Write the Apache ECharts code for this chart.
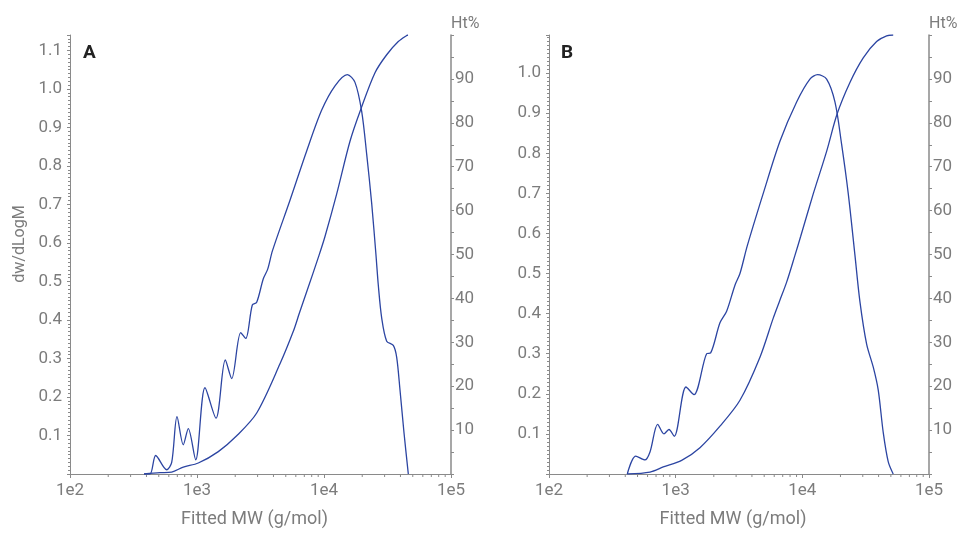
<!DOCTYPE html>
<html>
<head>
<meta charset="utf-8">
<script src="https://cdn.jsdelivr.net/npm/echarts@6/dist/echarts.min.js"></script>
<style>
html,body{margin:0;padding:0;background:#fff;}
#chart{width:961px;height:533px;}
</style>
</head>
<body>
<div id="chart"></div>
<script>
// ---- Panel A data ----
const aDwMW = [383, 427, 473, 577, 632, 696, 780, 854, 977, 1156, 1411, 1670, 1876, 2209, 2418, 2726, 2952, 3327, 3603, 3930, 5398, 7306, 9592, 12210, 15260, 17540, 19815, 21690, 23750, 25670, 26770, 28470, 31160, 35130, 37360, 39670, 42650, 46120];
const aDw = [0, 0, 0.048, 0.011, 0.03, 0.149, 0.076, 0.118, 0.037, 0.224, 0.145, 0.296, 0.248, 0.367, 0.352, 0.439, 0.446, 0.507, 0.532, 0.58, 0.711, 0.839, 0.945, 1.008, 1.037, 1.017, 0.941, 0.830, 0.702, 0.568, 0.49, 0.405, 0.345, 0.334, 0.303, 0.218, 0.107, 0];
const aHtMW = [383, 511, 632, 780, 1024, 1472, 2054, 2952, 4503, 5733, 6391, 7306, 9134, 10180, 12590, 16020, 19560, 25210, 31160, 38460, 44790, 45860];
const aHt = [0, 0.3, 0.45, 1.57, 2.5, 5.1, 8.7, 13.9, 25.1, 32.5, 36.6, 41.5, 49.8, 54.1, 63.8, 75.8, 83.2, 91.4, 95.5, 98.5, 99.9, 100];

// ---- Panel B data ----
const bDwMW = [415, 484, 572, 627, 721, 808, 885, 975, 1206, 1394, 1756, 1889, 2237, 2526, 2938, 3218, 3674, 4914, 6656, 9016, 11480, 13200, 15550, 18090, 20430, 23030, 26020, 28490, 32180, 36270, 39720, 43510, 47640, 52170];
const bDw = [0, 0.0445, 0.035, 0.055, 0.124, 0.1, 0.111, 0.094, 0.217, 0.198, 0.300, 0.302, 0.377, 0.406, 0.471, 0.5, 0.569, 0.700, 0.830, 0.928, 0.985, 0.996, 0.985, 0.928, 0.822, 0.700, 0.546, 0.430, 0.324, 0.267, 0.210, 0.104, 0.031, 0];
const bHtMW = [415, 627, 798, 1115, 1555, 2237, 3218, 4628, 5893, 6573, 7518, 8743, 9696, 12190, 15550, 18860, 23760, 30250, 38590, 46290, 52170];
const bHt = [0, 0.45, 1.6, 3.1, 6.0, 10.9, 16.8, 26.6, 35.5, 39.2, 43.7, 49.8, 54.1, 63.8, 73.5, 82.1, 89.2, 94.8, 98.5, 99.8, 100];

// ---- axes ----
const xMin = 100, xMax = 100000;
const xMinorTicks = [200,300,400,500,600,700,800,900,2000,3000,4000,5000,6000,7000,8000,9000,20000,30000,40000,50000,60000,70000,80000,90000];
const yLeftMaxA = 1.14, yLeftMaxB = 1.095;
const yRightMax = 100;
const panelLabels = ['A', 'B'];
const xTitle = 'Fitted MW (g/mol)';
const yLeftTitle = 'dw/dLogM';
const yRightTitle = 'Ht%';

const zip = (xs, ys) => xs.map((x, i) => [x, ys[i]]);

const AX = '#8a8a8a';
const TXT = '#7c7c7c';
const LINE = '#2c45a2';
const FONT = 'Roboto';

function xAxisCfg(gi) {
  return {
    gridIndex: gi, type: 'log', logBase: 10, min: xMin, max: xMax,
    axisLine: { show: true, lineStyle: { color: AX, width: 1 } },
    axisTick: { show: true, length: 4, lineStyle: { color: AX } },
    axisLabel: { color: TXT, fontSize: 17, fontFamily: FONT, margin: 8,
      formatter: v => '1e' + Math.round(Math.log10(v)) },
    splitLine: { show: false },
    name: xTitle, nameLocation: 'middle', nameGap: 36,
    nameTextStyle: { color: TXT, fontSize: 18, fontFamily: FONT, padding: [0, 12, 0, 0] }
  };
}
function yLeftCfg(gi, max) {
  return {
    gridIndex: gi, type: 'value', min: 0, max: max, interval: 0.1, position: 'left',
    axisLine: { show: true, lineStyle: { color: AX, width: 1 } },
    axisTick: { show: true, length: 3, lineStyle: { color: AX } },
    minorTick: { show: true, splitNumber: 10, length: 2, lineStyle: { color: AX } },
    axisLabel: { color: TXT, fontSize: 17, fontFamily: FONT, margin: 8, showMinLabel: false,
      formatter: v => (v === 0 || Math.abs(v * 10 - Math.round(v * 10)) > 1e-6) ? '' : v.toFixed(1) },
    splitLine: { show: false }, minorSplitLine: { show: false }
  };
}
function yRightCfg(gi) {
  return {
    gridIndex: gi, type: 'value', min: 0, max: yRightMax, interval: 10, position: 'right',
    axisLine: { show: true, lineStyle: { color: AX, width: 1.5 } },
    axisTick: { show: true, length: 3, lineStyle: { color: AX } },
    minorTick: { show: true, splitNumber: 2, length: 3, lineStyle: { color: AX } },
    axisLabel: { color: TXT, fontSize: 17, fontFamily: FONT, margin: 4, showMinLabel: false, showMaxLabel: false },
    splitLine: { show: false },
    name: yRightTitle, nameLocation: 'end', nameGap: 11,
    nameTextStyle: { color: TXT, fontSize: 16, fontFamily: FONT, align: 'left', verticalAlign: 'middle' }
  };
}
function lineSeries(xi, yi, data) {
  return { type: 'line', xAxisIndex: xi, yAxisIndex: yi, data: data, showSymbol: false,
    smooth: 0.3, lineStyle: { color: LINE, width: 1.3 }, itemStyle: { color: LINE }, animation: false, silent: true };
}
function minorTickSeries(xi, yi) {
  return {
    type: 'custom', xAxisIndex: xi, yAxisIndex: yi, silent: true, clip: false, animation: false,
    data: xMinorTicks.map(v => [v, 0]),
    renderItem: (params, api) => {
      const p = api.coord([api.value(0), 0]);
      return { type: 'line', shape: { x1: p[0], y1: p[1], x2: p[0], y2: p[1] + 3 },
        style: { stroke: AX, lineWidth: 1 } };
    }
  };
}

const chart = echarts.init(document.getElementById('chart'), null, { renderer: 'canvas' });
chart.setOption({
  animation: false,
  backgroundColor: '#ffffff',
  grid: [
    { left: 70, top: 35, width: 381, height: 447 },
    { left: 549, top: 35, width: 380, height: 447 }
  ],
  xAxis: [xAxisCfg(0), xAxisCfg(1)],
  yAxis: [yLeftCfg(0, yLeftMaxA), yRightCfg(0), yLeftCfg(1, yLeftMaxB), yRightCfg(1)],
  series: [
    lineSeries(0, 0, zip(aDwMW, aDw)),
    lineSeries(0, 1, zip(aHtMW, aHt)),
    lineSeries(1, 2, zip(bDwMW, bDw)),
    lineSeries(1, 3, zip(bHtMW, bHt)),
    minorTickSeries(0, 0),
    minorTickSeries(1, 2)
  ],
  graphic: [
    { type: 'text', left: 83, top: 44, style: { text: panelLabels[0], font: 'bold 19px Roboto', fill: '#222' } },
    { type: 'text', left: 561, top: 44, style: { text: panelLabels[1], font: 'bold 19px Roboto', fill: '#222' } },
    { type: 'text', x: 19.5, y: 244, rotation: Math.PI / 2,
      style: { text: yLeftTitle, font: '16px Roboto', fill: TXT, align: 'center', verticalAlign: 'middle' } }
  ]
});
</script>
</body>
</html>
